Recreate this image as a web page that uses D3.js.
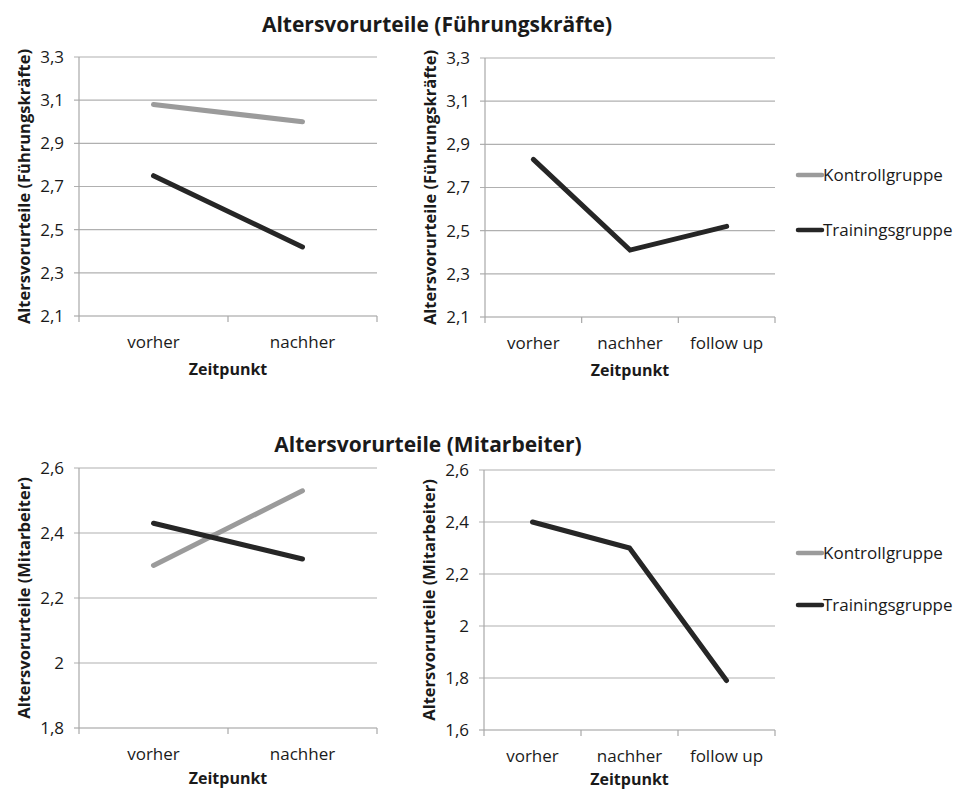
<!DOCTYPE html>
<html>
<head>
<meta charset="utf-8">
<script src="https://cdn.jsdelivr.net/npm/d3@7"></script>
<style>
  body { margin: 0; background: #fff; }
  svg { font-family: "Open Sans", sans-serif; }
</style>
</head>
<body>
<svg id="chart" width="955" height="792"></svg>
<script>
// categories
const zeitTwo = ["vorher", "nachher"];
const zeitThree = ["vorher", "nachher", "follow up"];
const groups = ["Kontrollgruppe", "Trainingsgruppe"];

// Führungskräfte
const fkKontroll = [3.08, 3.00];
const fkTraining = [2.75, 2.42];
const fkTrainingFollow = [2.83, 2.41, 2.52];
const fkTicks = [2.1, 2.3, 2.5, 2.7, 2.9, 3.1, 3.3];

// Mitarbeiter
const maKontroll = [2.30, 2.53];
const maTraining = [2.43, 2.32];
const maTrainingFollow = [2.40, 2.30, 1.79];
const maTicksLeft = [1.8, 2.0, 2.2, 2.4, 2.6];
const maTicksRight = [1.6, 1.8, 2.0, 2.2, 2.4, 2.6];

const colKontroll = "#9b9b9b";
const colTraining = "#262626";
const svg = d3.select("#chart");

function fmt(v){
    return d3.format(".1~f")(v).replace(".", ",");
}

/**
 * Draws one panel: gridlines, axes, lines
 */
function drawPanel(opt){
    let x = d3.scaleBand().domain(opt.cats).range([opt.x0, opt.x1]).padding(0);
    let y = d3.scaleLinear().domain(d3.extent(opt.ticks)).range([opt.y1, opt.y0]);
    let g = svg.append("g");

    // gridlines
    g.selectAll("line.grid").data(opt.ticks).join("line")
        .attr("x1", opt.x0 - 5).attr("x2", opt.x1)
        .attr("y1", d => y(d)).attr("y2", d => y(d))
        .attr("stroke", d => d == opt.ticks[0] ? "#9a9a9a" : "#b0b0b0")
        .attr("stroke-width", 1.2);

    // y axis line
    g.append("line").attr("x1", opt.x0).attr("x2", opt.x0)
        .attr("y1", opt.y0).attr("y2", opt.y1)
        .attr("stroke", "#a8a8a8").attr("stroke-width", 1.2);

    // category boundary ticks
    let bounds = opt.cats.map(c => x(c)).concat([opt.x1]);
    g.selectAll("line.xt").data(bounds).join("line")
        .attr("x1", d => d).attr("x2", d => d)
        .attr("y1", opt.y1).attr("y2", opt.y1 + 6)
        .attr("stroke", "#a8a8a8").attr("stroke-width", 1.2);

    // tick labels
    g.selectAll("text.yl").data(opt.ticks).join("text")
        .attr("x", opt.x0 - 15).attr("y", d => y(d))
        .attr("dy", "0.35em").attr("text-anchor", "end")
        .attr("font-size", 17).attr("fill", "#1a1a1a")
        .text(d => fmt(d));

    g.selectAll("text.xl").data(opt.cats).join("text")
        .attr("x", d => x(d) + x.bandwidth() / 2).attr("y", opt.y1 + 32)
        .attr("text-anchor", "middle")
        .attr("font-size", 17).attr("fill", "#1a1a1a")
        .text(d => d);

    // axis titles
    g.append("text")
        .attr("x", (opt.x0 + opt.x1) / 2).attr("y", opt.y1 + opt.zeitOffset)
        .attr("text-anchor", "middle").attr("font-size", 16).attr("font-weight", "bold")
        .attr("fill", "#1a1a1a")
        .text("Zeitpunkt");

    g.append("text")
        .attr("transform", `translate(${opt.x0 - 55},${(opt.y0 + opt.y1) / 2}) rotate(-90)`)
        .attr("text-anchor", "middle").attr("dy", "0.35em")
        .attr("font-size", 16.5).attr("font-weight", "bold")
        .attr("fill", "#1a1a1a")
        .text(opt.ytitle);

    // data lines
    let line = d3.line()
        .x((d, i) => x(opt.cats[i]) + x.bandwidth() / 2)
        .y(d => y(d));

    for(let s of opt.series){
        g.append("path")
            .attr("d", line(s.values))
            .attr("stroke", s.color)
            .attr("stroke-width", 5)
            .attr("stroke-linecap", "round")
            .attr("stroke-linejoin", "miter")
            .attr("fill", "none");
    }
}

function drawLegend(x, ys){
    let g = svg.append("g");
    let cols = [colKontroll, colTraining];
    groups.forEach((name, i) => {
        g.append("line")
            .attr("x1", x).attr("x2", x + 24)
            .attr("y1", ys[i]).attr("y2", ys[i])
            .attr("stroke", cols[i]).attr("stroke-width", 4.5)
            .attr("stroke-linecap", "round");
        g.append("text")
            .attr("x", x + 25).attr("y", ys[i]).attr("dy", "0.35em")
            .attr("font-size", 17).attr("fill", "#1a1a1a")
            .text(name);
    });
}

// titles
svg.append("text").attr("x", 437).attr("y", 32).attr("text-anchor", "middle")
    .attr("font-size", 21).attr("font-weight", "bold").attr("fill", "#1a1a1a")
    .text("Altersvorurteile (Führungskräfte)");
svg.append("text").attr("x", 428).attr("y", 452).attr("text-anchor", "middle")
    .attr("font-size", 21).attr("font-weight", "bold").attr("fill", "#1a1a1a")
    .text("Altersvorurteile (Mitarbeiter)");

drawPanel({
    cats: zeitTwo, ticks: fkTicks, x0: 79, x1: 377, y0: 57, y1: 316, zeitOffset: 59,
    ytitle: "Altersvorurteile (Führungskräfte)",
    series: [
        {values: fkKontroll, color: colKontroll},
        {values: fkTraining, color: colTraining}
    ]
});
drawPanel({
    cats: zeitThree, ticks: fkTicks, x0: 485, x1: 775, y0: 58, y1: 317, zeitOffset: 59,
    ytitle: "Altersvorurteile (Führungskräfte)",
    series: [
        {values: fkTrainingFollow, color: colTraining}
    ]
});
drawPanel({
    cats: zeitTwo, ticks: maTicksLeft, x0: 79, x1: 377, y0: 468, y1: 728, zeitOffset: 56,
    ytitle: "Altersvorurteile (Mitarbeiter)",
    series: [
        {values: maKontroll, color: colKontroll},
        {values: maTraining, color: colTraining}
    ]
});
drawPanel({
    cats: zeitThree, ticks: maTicksRight, x0: 484, x1: 775, y0: 470, y1: 730, zeitOffset: 55,
    ytitle: "Altersvorurteile (Mitarbeiter)",
    series: [
        {values: maTrainingFollow, color: colTraining}
    ]
});

drawLegend(798, [175, 230]);
drawLegend(798, [553, 605]);
</script>
</body>
</html>
